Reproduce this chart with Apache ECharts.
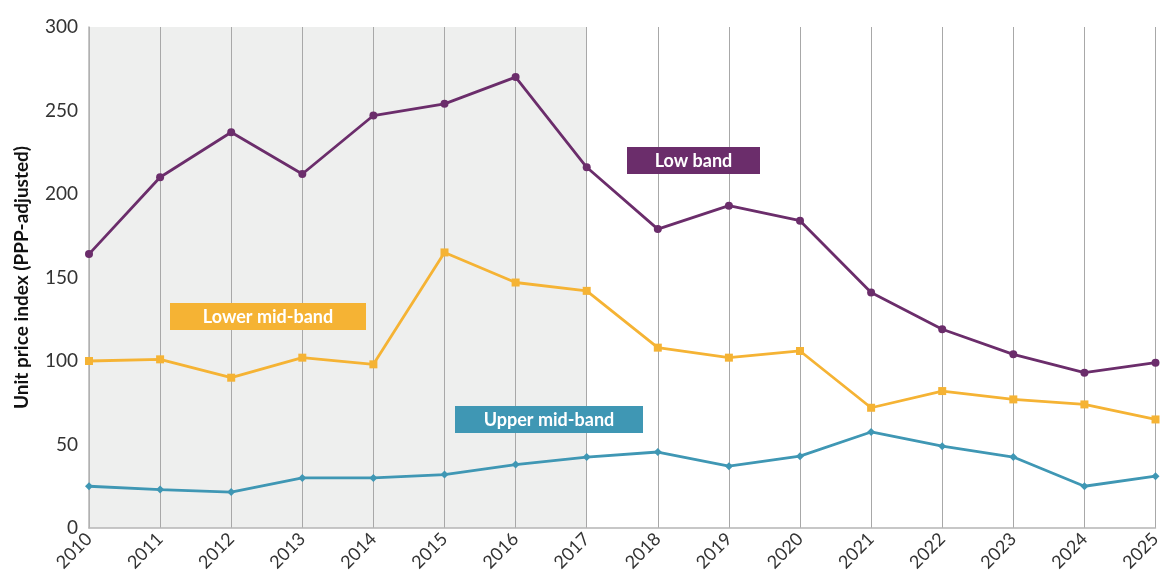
<!DOCTYPE html>
<html>
<head>
<meta charset="utf-8">
<script src="https://cdn.jsdelivr.net/npm/echarts@6/dist/echarts.min.js"></script>
<style>
html, body { margin: 0; padding: 0; background: #fff; }
#main { width: 1164px; height: 579px; }
</style>
</head>
<body>
<div id="main"></div>
<script>
var years = ['2010', '2011', '2012', '2013', '2014', '2015', '2016', '2017',
    '2018', '2019', '2020', '2021', '2022', '2023', '2024', '2025'];
var lowBand = [164, 210, 237, 212, 247, 254, 270, 216, 179, 193, 184, 141, 119, 104, 93, 99];
var lowerMid = [100, 101, 90, 102, 98, 165, 147, 142, 108, 102, 106, 72, 82, 77, 74, 65];
var upperMid = [25, 23, 21.5, 30, 30, 32, 38, 42.5, 45.5, 37, 43, 57.5, 49, 42.5, 25, 31];
var shadedYears = 7; // 2010-2017 shaded

window.onload = function () {
    var chart = echarts.init(document.getElementById('main'));
    var font = 'Lato, "Open Sans", sans-serif';

    // 灰色背景区域
    var areaColors = [];
    for (var i = 0; i < years.length - 1; i++) {
        areaColors.push(i < shadedYears ? '#eeefee' : 'rgba(255,255,255,0)');
    }

    var option = {
        animation: false,
        grid: { left: 89, right: 5, top: 27, bottom: 51 },
        xAxis: {
            type: 'category',
            boundaryGap: false,
            data: years,
            axisLine: { lineStyle: { color: '#b5b5b5', width: 1.5 } },
            axisTick: { show: false },
            axisLabel: {
                rotate: 45, color: '#333', fontSize: 18, fontFamily: font,
                margin: 8, interval: 0
            },
            splitLine: { show: true, lineStyle: { color: '#a8a8a8', width: 1 } },
            splitArea: { show: true, areaStyle: { color: areaColors } }
        },
        yAxis: {
            type: 'value',
            min: 0, max: 300, interval: 50,
            name: 'Unit price index (PPP-adjusted)',
            nameLocation: 'middle',
            nameGap: 58,
            nameTextStyle: { fontSize: 19, fontWeight: 'bold', color: '#111', fontFamily: font },
            axisLine: { show: true, lineStyle: { color: '#b5b5b5', width: 1.5 } },
            axisTick: { show: false },
            axisLabel: { color: '#333', fontSize: 19, fontFamily: font, margin: 11 },
            splitLine: { show: false }
        },
        series: [
            {
                name: 'Low band', type: 'line', data: lowBand,
                symbol: 'circle', symbolSize: 8,
                lineStyle: { color: '#6b2d6b', width: 2.8 },
                itemStyle: { color: '#6b2d6b' }
            },
            {
                name: 'Lower mid-band', type: 'line', data: lowerMid,
                symbol: 'rect', symbolSize: 8,
                lineStyle: { color: '#f5b334', width: 2.8 },
                itemStyle: { color: '#f5b334' }
            },
            {
                name: 'Upper mid-band', type: 'line', data: upperMid,
                symbol: 'diamond', symbolSize: 8,
                lineStyle: { color: '#3f97b4', width: 2.8 },
                itemStyle: { color: '#3f97b4' }
            }
        ],
        graphic: [
            labelBox(627, 147, 133, 'Low band', '#6b2d6b'),
            labelBox(170, 303, 196, 'Lower mid-band', '#f5b334'),
            labelBox(455, 406, 188, 'Upper mid-band', '#3f97b4')
        ]
    };

    function labelBox(x, y, w, text, color) {
        return {
            type: 'group', left: x, top: y, z: 100,
            children: [
                { type: 'rect', z: 100, shape: { x: 0, y: 0, width: w, height: 27 }, style: { fill: color } },
                {
                    type: 'text', z: 101, x: w / 2, y: 14,
                    style: {
                        text: text, fill: '#fff', font: 'bold 18px ' + font,
                        align: 'center', verticalAlign: 'middle'
                    }
                }
            ]
        };
    }

    chart.setOption(option);
};
</script>
</body>
</html>
